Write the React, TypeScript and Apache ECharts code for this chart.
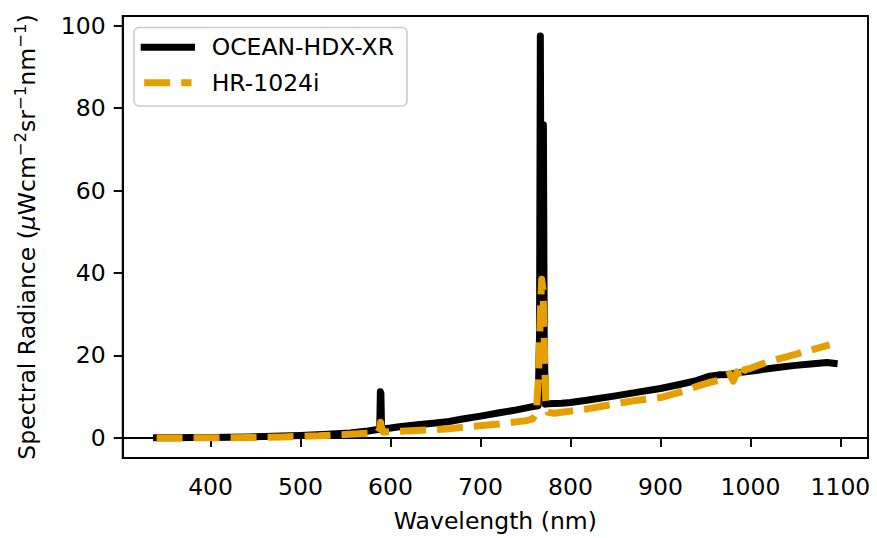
import React, { useEffect, useRef } from "react";
import * as echarts from "echarts";

// OCEAN-HDX-XR spectrum (wavelength nm, radiance)
const blackWl = [340, 360, 380, 400, 420, 443, 470, 500, 530, 555, 575, 584, 588, 588.7, 589.3, 590, 590.8, 600, 610, 630, 650, 665, 680, 700, 721, 740, 758, 764, 765.6, 766.5, 767.4, 768.6, 769.9, 770.8, 772, 775, 790, 800, 820, 850, 880, 900, 920, 940, 955, 965, 975, 990, 1010, 1030, 1050, 1070, 1085, 1093];
const blackVal = [0.05, 0.07, 0.1, 0.13, 0.17, 0.25, 0.4, 0.6, 0.9, 1.2, 1.7, 2.0, 2.1, 11.2, 10.8, 2.8, 2.2, 2.4, 2.7, 3.2, 3.6, 4.0, 4.6, 5.3, 6.1, 6.8, 7.6, 7.8, 25, 97.5, 40, 20, 76, 25, 8.2, 8.3, 8.4, 8.6, 9.2, 10.2, 11.3, 12.0, 12.9, 13.9, 15.0, 15.3, 15.4, 15.9, 16.5, 17.1, 17.6, 18.0, 18.3, 18.1];

// HR-1024i spectrum
const orangeWl = [340, 400, 443, 480, 520, 555, 580, 586, 588, 589, 590, 592, 610, 640, 665, 690, 721, 740, 751, 758, 762, 764.5, 766.5, 768, 769.5, 771, 772.5, 775, 782, 800, 820, 843, 870, 900, 920, 943, 955, 965, 972, 977, 981, 985, 989, 993, 1000, 1020, 1050, 1070, 1088];
const orangeVal = [0, 0.02, 0.1, 0.25, 0.5, 0.9, 1.2, 1.4, 2.2, 3.8, 2.5, 1.4, 1.6, 1.9, 2.2, 2.8, 3.4, 3.9, 4.2, 4.6, 6, 15, 30, 38.5, 36, 22, 9, 6.2, 6.0, 6.5, 7.1, 8.0, 9.0, 9.8, 11.0, 12.7, 13.5, 14.0, 14.8, 15.5, 13.8, 16.0, 14.0, 16.5, 16.9, 18.5, 20.3, 21.5, 22.6];

const xTicks = [400, 500, 600, 700, 800, 900, 1000, 1100];
const yTicks = [0, 20, 40, 60, 80, 100];
const seriesNames = ["OCEAN-HDX-XR", "HR-1024i"];

const FONT = "DejaVu Sans";
const FS = 23.5;
const ORANGE = "#E69F00";

export default function App() {
  const ref = useRef<HTMLDivElement>(null);
  useEffect(() => {
    if (!ref.current) return;
    const chart = echarts.init(ref.current, undefined, { renderer: "svg" });
    const blackData = blackWl.map((w, i) => [w, blackVal[i]]);
    const orangeData = orangeWl.map((w, i) => [w, orangeVal[i]]);
    const axisCommon = {
      axisLine: { show: true, lineStyle: { color: "#000", width: 1.9 } },
      splitLine: { show: false },
    };
    chart.setOption({
      animation: false,
      backgroundColor: "#fff",
      grid: {
        left: 122.7,
        right: 9,
        top: 16,
        bottom: 78,
        show: true,
        borderColor: "#000",
        borderWidth: 1.9,
        backgroundColor: "transparent",
      },
      xAxis: {
        type: "value",
        min: 302.35,
        max: 1130.65,
        ...axisCommon,
        axisTick: {
          show: true,
          length: 9,
          customValues: xTicks,
          lineStyle: { color: "#000", width: 1.9 },
        },
        axisLabel: {
          customValues: xTicks,
          formatter: (v: number) => String(v),
          fontSize: FS,
          fontFamily: FONT,
          color: "#000",
          margin: 17,
        },
        name: "Wavelength (nm)",
        nameLocation: "middle",
        nameGap: 51,
        nameTextStyle: { fontSize: FS, fontFamily: FONT, color: "#000" },
      },
      yAxis: {
        type: "value",
        min: -4.87,
        max: 102.37,
        ...axisCommon,
        axisTick: {
          show: true,
          length: 9,
          customValues: yTicks,
          lineStyle: { color: "#000", width: 1.9 },
        },
        axisLabel: {
          customValues: yTicks,
          formatter: (v: number) => String(v),
          fontSize: FS,
          fontFamily: FONT,
          color: "#000",
          margin: 17,
        },
        name: "{a|Spectral Radiance (}{b|μ}{a|Wcm}{s|−2}{a|sr}{s|−1}{a|nm}{s|−1}{a|)}",
        nameLocation: "middle",
        nameGap: 80,
        nameRotate: 90,
        nameTextStyle: {
          fontSize: FS,
          fontFamily: FONT,
          color: "#000",
          rich: {
            a: { fontSize: FS, lineHeight: 31, fontFamily: FONT, color: "#000" },
            b: { fontSize: FS, lineHeight: 31, fontFamily: FONT, color: "#000", fontStyle: "italic" },
            s: { fontSize: 16.5, lineHeight: 17, fontFamily: FONT, color: "#000", verticalAlign: "top" },
          },
        },
      },
      series: [
        {
          name: seriesNames[0],
          type: "line",
          data: blackData,
          showSymbol: false,
          symbol: "none",
          lineStyle: { color: "#000", width: 7, cap: "square", join: "round" },
          z: 2,
        },
        {
          name: seriesNames[1],
          type: "line",
          data: orangeData,
          showSymbol: false,
          symbol: "none",
          lineStyle: { color: ORANGE, width: 7, type: [26, 11], cap: "butt", join: "round" },
          z: 3,
        },
      ],
      graphic: [
        {
          type: "group",
          z: 100,
          children: [
            {
              type: "rect",
              shape: { x: 134, y: 27.5, width: 273, height: 78.5, r: 5 },
              style: { fill: "rgba(255,255,255,0.8)", stroke: "#cccccc", lineWidth: 1.6 },
            },
            {
              type: "line",
              shape: { x1: 144.2, y1: 47.3, x2: 191.5, y2: 47.3 },
              style: { stroke: "#000", lineWidth: 7, lineCap: "square" },
            },
            {
              type: "line",
              shape: { x1: 144.2, y1: 82.7, x2: 191.5, y2: 82.7 },
              style: { stroke: ORANGE, lineWidth: 7, lineDash: [26, 11], lineCap: "butt" },
            },
            {
              type: "text",
              x: 211.7,
              y: 47.3,
              style: { text: seriesNames[0], fontSize: FS, fontFamily: FONT, fill: "#000", align: "left", verticalAlign: "middle" },
            },
            {
              type: "text",
              x: 211.7,
              y: 82.7,
              style: { text: seriesNames[1], fontSize: FS, fontFamily: FONT, fill: "#000", align: "left", verticalAlign: "middle" },
            },
          ],
        },
      ],
    });
    return () => chart.dispose();
  }, []);
  return (
    <div
      ref={ref}
      style={{ position: "absolute", left: 0, top: 0, width: 877, height: 538 }}
    />
  );
}
